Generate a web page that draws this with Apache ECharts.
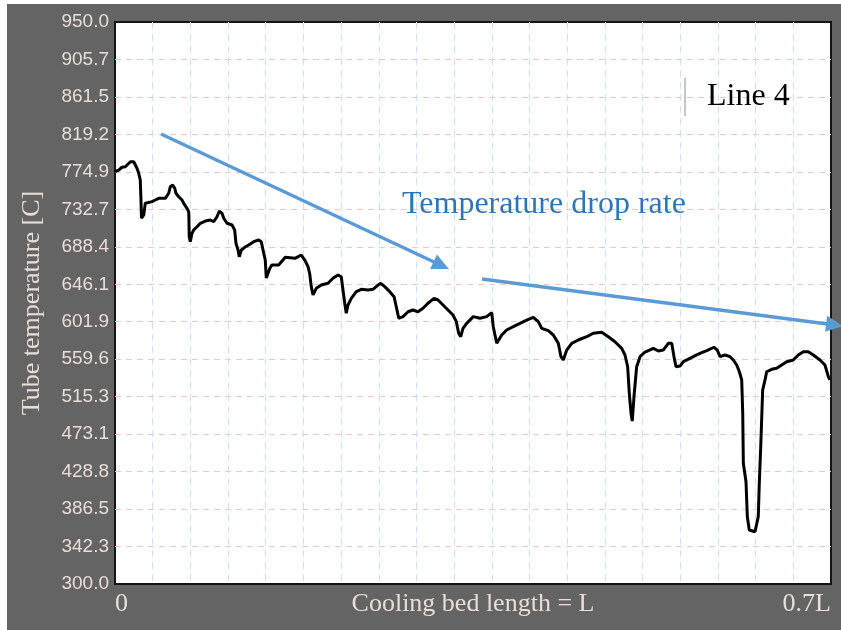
<!DOCTYPE html>
<html>
<head>
<meta charset="utf-8">
<title>Tube temperature along the cooling bed</title>
<script src="https://cdn.jsdelivr.net/npm/echarts@6/dist/echarts.min.js"></script>
<style>
  html, body { margin: 0; padding: 0; background: #fff; }
  #main { width: 841px; height: 630px; }
</style>
</head>
<body>
<div id="main"></div>
<script>
// Tick labels of the temperature scale, bottom to top (15 equal steps)
const yTickLabels = ['300.0', '342.3', '386.5', '428.8', '473.1', '515.3', '559.6', '601.9',
  '646.1', '688.4', '732.7', '774.9', '819.2', '861.5', '905.7', '950.0'];

// Position along the cooling bed, in percent of L (0 .. 70 = 0.7L)
const posL = [0, 0.36, 0.68, 1.01, 1.17, 1.50, 1.66, 1.83, 1.98, 2.15,
  2.32, 2.47, 2.54, 2.59, 2.81, 2.96, 3.13, 3.62, 3.94, 4.27,
  4.92, 5.25, 5.41, 5.64, 5.84, 5.96, 6.23, 6.55, 6.72, 7.04,
  7.21, 7.26, 7.36, 7.53, 7.69, 8.02, 8.34, 8.83, 9.32, 9.65,
  9.97, 10.20, 10.46, 10.63, 10.95, 11.44, 11.70, 11.83, 12.03, 12.15,
  12.35, 12.68, 13.07, 13.56, 14.05, 14.30, 14.54, 14.69, 14.79, 14.91,
  15.15, 15.35, 16.00, 16.65, 17.60, 18.21, 18.55, 18.87, 19.03, 19.19,
  19.36, 19.68, 20.17, 20.82, 21.31, 21.80, 22.12, 22.29, 22.46, 22.61,
  22.78, 23.10, 23.59, 24.08, 24.73, 25.22, 25.71, 25.98, 26.37, 26.86,
  27.28, 27.50, 27.74, 28.16, 28.65, 29.13, 29.62, 30.11, 30.60, 31.19,
  31.58, 32.07, 32.56, 33.04, 33.37, 33.60, 33.80, 34.02, 34.38, 35.03,
  35.68, 36.34, 36.83, 36.98, 37.32, 37.81, 38.29, 38.94, 39.59, 40.25,
  40.90, 41.38, 41.72, 42.36, 42.85, 43.34, 43.60, 43.83, 44.16, 44.65,
  45.29, 46.12, 46.76, 47.58, 48.23, 48.88, 49.54, 49.86, 50.12, 50.28,
  50.45, 50.57, 50.74, 51.00, 51.33, 51.82, 52.63, 53.12, 53.60, 54.09,
  54.43, 54.65, 54.85, 55.24, 55.56, 56.21, 56.87, 57.36, 57.85, 58.56,
  58.88, 59.15, 59.64, 60.13, 60.45, 60.78, 61.04, 61.27, 61.37, 61.43,
  61.69, 61.82, 62.01, 62.57, 62.89, 62.99, 63.13, 63.32, 63.55, 63.71,
  64.20, 64.69, 65.18, 65.67, 66.31, 66.80, 67.29, 67.78, 68.27, 68.92,
  69.41, 69.74, 69.90];

// Measured tube temperature [C] at each position
const temps = [776.9, 778.8, 782.0, 782.6, 784.6, 788.4, 790.4, 788.4, 786.6, 780.8,
  775.0, 767.3, 744.1, 723.0, 726.8, 740.3, 742.2, 742.2, 744.1, 746.1,
  746.1, 751.9, 759.5, 761.5, 757.7, 751.9, 747.9, 744.1, 740.3, 734.5,
  730.6, 701.7, 695.9, 705.6, 709.4, 713.2, 717.2, 719.8, 721.0, 719.0,
  724.8, 731.4, 728.7, 723.0, 717.2, 715.2, 709.4, 694.0, 686.3, 678.5,
  686.3, 689.4, 692.1, 695.9, 697.9, 695.9, 682.5, 674.7, 653.9, 651.6,
  665.5, 669.0, 669.0, 677.9, 676.7, 680.5, 674.7, 667.0, 659.3, 643.9,
  634.3, 642.0, 645.8, 647.8, 653.6, 657.4, 655.4, 640.0, 624.7, 613.1,
  622.7, 630.4, 638.1, 640.8, 640.0, 640.8, 645.8, 647.8, 643.9, 638.1,
  632.3, 620.7, 607.3, 609.2, 614.9, 616.9, 614.9, 618.9, 624.7, 630.4,
  628.5, 622.7, 616.9, 611.1, 603.4, 590.0, 586.0, 595.7, 601.5, 609.2,
  607.3, 609.2, 613.8, 597.6, 578.4, 588.0, 593.8, 597.6, 601.5, 605.3,
  608.5, 603.4, 595.7, 593.0, 588.0, 578.4, 562.9, 559.1, 570.6, 578.4,
  582.2, 586.0, 590.0, 591.1, 586.0, 580.2, 572.6, 564.9, 551.3, 520.6,
  497.4, 488.5, 516.6, 551.3, 562.9, 568.3, 572.6, 569.5, 570.6, 578.4,
  578.4, 562.9, 551.3, 552.1, 557.1, 561.0, 564.9, 567.5, 569.8, 573.8,
  570.6, 562.9, 564.9, 562.9, 559.1, 553.3, 545.5, 536.0, 497.4, 439.6,
  418.3, 377.8, 362.5, 360.5, 377.8, 416.5, 458.8, 524.4, 536.0, 545.5,
  548.3, 549.5, 553.3, 557.1, 559.1, 564.9, 568.7, 568.7, 564.9, 559.1,
  553.3, 539.8, 536.0];

// Trend arrows of the drop rate: [position %L, temperature] start and end
const trendStart = [[4.5, 820.5], [35.88, 652.8]];
const trendEnd = [[32.65, 664.3], [71.17, 598.4]];

const SERIF = '"Liberation Serif", "Times New Roman", serif';
const SANS = '"Liberation Sans", Arial, sans-serif';
const frameText = '#e9ddd7';

const chart = echarts.init(document.getElementById('main'), null, { renderer: 'canvas' });

const lineData = posL.map((x, i) => [x, temps[i]]);

chart.setOption({
  animation: false,
  backgroundColor: '#646464',
  grid: {
    left: 115, right: 10, top: 22, bottom: 46,
    outerBoundsMode: 'none',
    containLabel: false,
    show: true, backgroundColor: '#ffffff',
    borderColor: '#151515', borderWidth: 2
  },
  legend: {
    data: [{ name: 'Line 4', icon: 'rect', itemStyle: { color: '#c6c6c6', borderWidth: 0 } }],
    left: 684, top: 78, padding: 0,
    itemWidth: 2, itemHeight: 38,
    selectedMode: false,
    textStyle: { fontFamily: SERIF, fontSize: 32, color: '#000', padding: [0, 0, 0, 16] }
  },
  xAxis: [
    { type: 'value', min: 0, max: 70, show: false },
    {
      type: 'value', min: 0, max: 19, interval: 1, position: 'bottom',
      axisLine: { show: false }, axisTick: { show: false },
      splitLine: {
        show: true, showMinLine: false, showMaxLine: false,
        lineStyle: { color: '#c9e1f9', width: 1, type: [7, 5] }
      },
      axisLabel: {
        formatter: v => (v === 0 ? '0' : (v === 19 ? '0.7L' : '')),
        color: frameText, fontFamily: SERIF, fontSize: 26, margin: 7,
        showMinLabel: true, showMaxLabel: true,
        alignMinLabel: 'left', alignMaxLabel: 'right'
      },
      name: 'Cooling bed length = L', nameLocation: 'middle', nameGap: 7,
      nameMoveOverlap: false,
      nameTextStyle: { color: frameText, fontFamily: SERIF, fontSize: 26, verticalAlign: 'top' }
    }
  ],
  yAxis: [
    { type: 'value', min: 300, max: 950, show: false },
    {
      type: 'value', min: 0, max: 15, interval: 1, position: 'left',
      axisLine: { show: false }, axisTick: { show: false },
      splitLine: {
        show: true, showMinLine: false, showMaxLine: false,
        lineStyle: { color: '#ecc9c9', width: 1, type: [6, 5] }
      },
      axisLabel: {
        formatter: v => yTickLabels[v],
        color: frameText, fontFamily: SANS, fontSize: 19, margin: 6
      },
      name: 'Tube temperature [C]', nameLocation: 'middle', nameGap: 70,
      nameMoveOverlap: false,
      nameTextStyle: { color: frameText, fontFamily: SERIF, fontSize: 26 }
    }
  ],
  series: [{
    name: 'Line 4',
    type: 'line',
    xAxisIndex: 0, yAxisIndex: 0,
    data: lineData,
    showSymbol: false, symbol: 'none',
    lineStyle: { color: '#000', width: 3 },
    itemStyle: { color: '#000' },
    z: 5
  }]
});

// Annotation arrows placed through the data scales
const toPx = xy => chart.convertToPixel({ xAxisIndex: 0, yAxisIndex: 0 }, xy);
const arrowColor = '#5b9bd5';
const arrowEls = [];
trendStart.forEach((s, i) => {
  const a = toPx(s), b = toPx(trendEnd[i]);
  const dx = b[0] - a[0], dy = b[1] - a[1];
  const len = Math.hypot(dx, dy);
  const ux = dx / len, uy = dy / len, nx = -uy, ny = ux;
  const headL = 17, headW = 8;
  const bx = b[0] - ux * headL, by = b[1] - uy * headL;
  arrowEls.push({
    type: 'line', z: 20,
    shape: { x1: a[0], y1: a[1], x2: b[0] - ux * 10, y2: b[1] - uy * 10 },
    style: { stroke: arrowColor, lineWidth: 3.5 }
  });
  arrowEls.push({
    type: 'polygon', z: 20,
    shape: { points: [[b[0], b[1]], [bx + nx * headW, by + ny * headW], [bx - nx * headW, by - ny * headW]] },
    style: { fill: arrowColor }
  });
});

chart.setOption({
  graphic: [
    { type: 'rect', z: 30, shape: { x: 0, y: 0, width: 841, height: 4 }, style: { fill: '#fff' } },
    { type: 'rect', z: 30, shape: { x: 0, y: 0, width: 7, height: 630 }, style: { fill: '#fff' } },
    {
      type: 'text', z: 20,
      style: {
        x: 402, y: 205, text: 'Temperature drop rate',
        font: '32px ' + SERIF, fill: '#2e75b6',
        align: 'left', verticalAlign: 'middle'
      }
    }
  ].concat(arrowEls)
});
</script>
</body>
</html>
